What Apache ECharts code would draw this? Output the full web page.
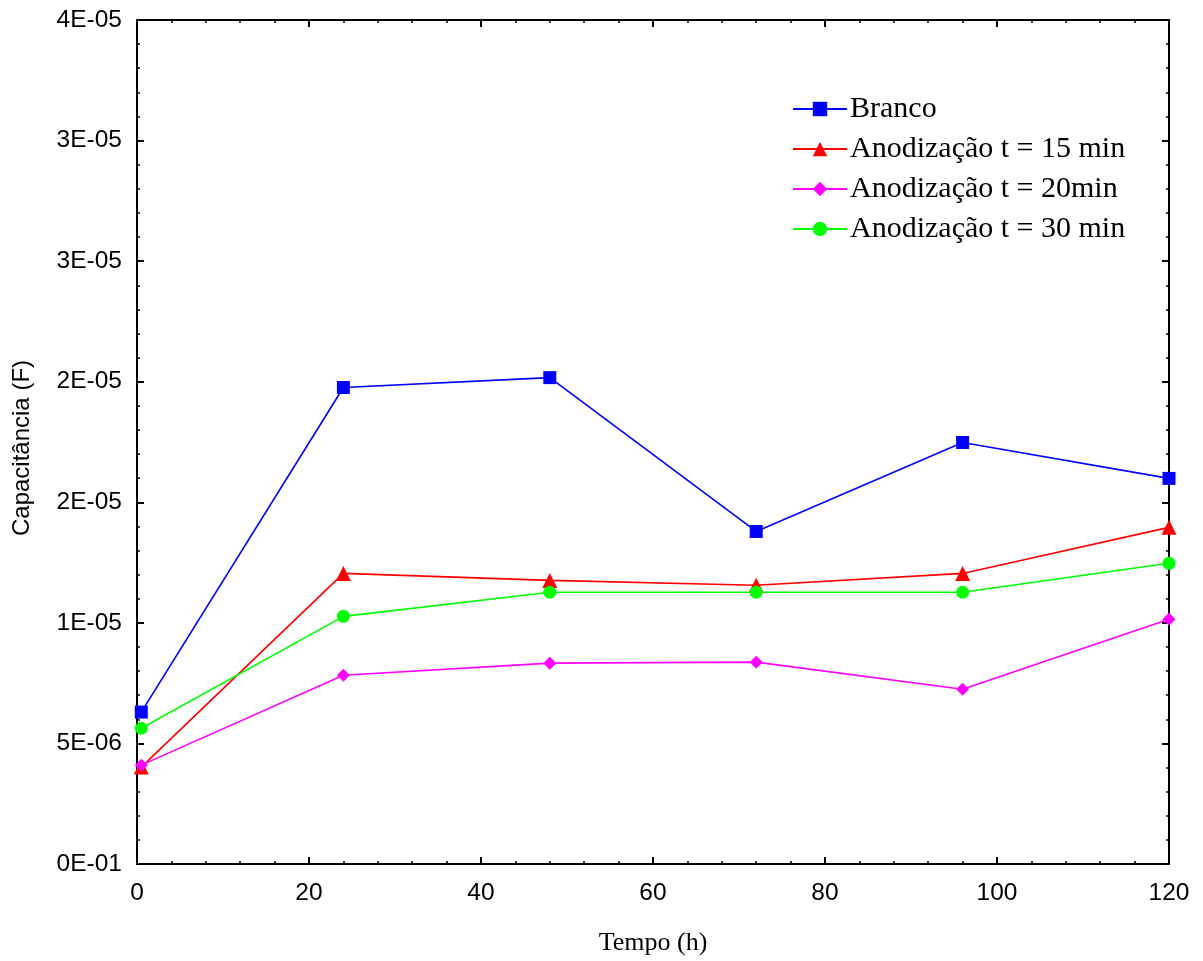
<!DOCTYPE html>
<html>
<head>
<meta charset="utf-8">
<script src="https://cdn.jsdelivr.net/npm/echarts@6/dist/echarts.min.js"></script>
<style>
  html, body { margin: 0; padding: 0; background: #fff; }
  #chart { width: 1203px; height: 961px; }
</style>
</head>
<body>
<div id="chart"></div>
<script>
// Immersion time (h)
const tempo = [0.5, 24, 48, 72, 96, 120];

// Capacitance (F) per sample
const branco = [6.30e-6, 1.976e-5, 2.017e-5, 1.379e-5, 1.748e-5, 1.599e-5];
const anod15 = [4.02e-6, 1.205e-5, 1.176e-5, 1.156e-5, 1.205e-5, 1.396e-5];
const anod20 = [4.10e-6, 7.83e-6, 8.33e-6, 8.37e-6, 7.25e-6, 1.015e-5];
const anod30 = [5.63e-6, 1.027e-5, 1.127e-5, 1.127e-5, 1.127e-5, 1.247e-5];

const seriesNames = ['Branco', 'Anodização t = 15 min', 'Anodização t = 20min', 'Anodização t = 30 min'];

// Y tick labels, one per 5E-06 step from 0
const yTickLabels = ['0E-01', '5E-06', '1E-05', '2E-05', '2E-05', '3E-05', '3E-05', '4E-05'];
const yStep = 5e-6;

const chart = echarts.init(document.getElementById('chart'), null, { renderer: 'canvas' });

const sansFont = 'Liberation Sans, Arial, sans-serif';
const serifFont = 'Liberation Serif, Times New Roman, serif';

function pairs(vals) { return tempo.map((t, i) => [t, vals[i]]); }

const tickCommon = {
  axisLine: { show: true, onZero: false, lineStyle: { color: '#000', width: 2 } },
  axisTick: { show: true, inside: true, length: 7, lineStyle: { color: '#000', width: 2 } },
  minorTick: { show: true, splitNumber: 5, length: 3, lineStyle: { color: '#000', width: 1.5 } },
  splitLine: { show: false }
};

const lineSeries = (name, vals, color, symbol, size) => ({
  name, type: 'line', data: pairs(vals),
  symbol, symbolSize: size,
  lineStyle: { color, width: 1.6 },
  itemStyle: { color },
  clip: false,
  animation: false
});

chart.setOption({
  backgroundColor: '#fff',
  animation: false,
  grid: { left: 137, right: 34, top: 20, bottom: 96 },
  legend: {
    orient: 'vertical',
    left: 787,
    top: 89,
    itemWidth: 54,
    itemHeight: 18,
    itemGap: 10,
    textStyle: { fontFamily: serifFont, fontSize: 30, lineHeight: 30, color: '#000', padding: [0, 0, 0, -2] },
    data: seriesNames
  },
  xAxis: [
    Object.assign({
      type: 'value', position: 'bottom', min: 0, max: 120, interval: 20,
      name: 'Tempo (h)', nameLocation: 'middle', nameGap: 66,
      nameTextStyle: { fontFamily: serifFont, fontSize: 26, color: '#000' },
      axisLabel: { fontFamily: sansFont, fontSize: 24.5, color: '#000', margin: 17 }
    }, tickCommon),
    Object.assign({
      type: 'value', position: 'top', min: 0, max: 120, interval: 20,
      axisLabel: { show: false }
    }, tickCommon)
  ],
  yAxis: [
    Object.assign({
      type: 'value', position: 'left', min: 0, max: 3.5e-5, interval: yStep,
      name: 'Capacitância (F)', nameLocation: 'middle', nameGap: 103,
      nameTextStyle: { fontFamily: sansFont, fontSize: 24, color: '#000', padding: [0, 12, 0, 0] },
      axisLabel: {
        fontFamily: sansFont, fontSize: 24.5, color: '#000', margin: 15,
        formatter: v => yTickLabels[Math.round(v / yStep)]
      }
    }, tickCommon),
    Object.assign({
      type: 'value', position: 'right', min: 0, max: 3.5e-5, interval: yStep,
      axisLabel: { show: false }
    }, tickCommon)
  ],
  series: [
    lineSeries(seriesNames[0], branco, '#0000ff', 'rect', 13),
    lineSeries(seriesNames[1], anod15, '#ff0000', 'triangle', 15),
    lineSeries(seriesNames[2], anod20, '#ff00ff', 'diamond', 13),
    lineSeries(seriesNames[3], anod30, '#00ff00', 'circle', 13)
  ]
});
</script>
</body>
</html>
